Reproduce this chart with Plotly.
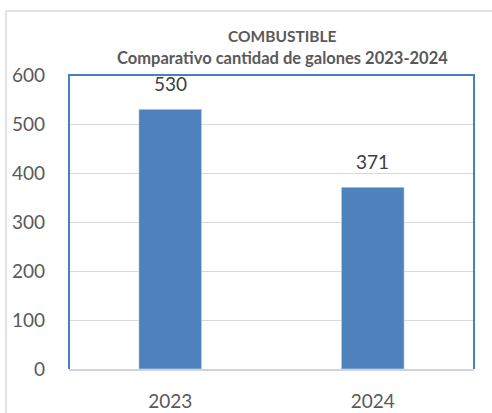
import plotly.graph_objects as go

categories = ["2023", "2024"]
values = [530, 371]
y_ticks = [0, 100, 200, 300, 400, 500, 600]

title_line1 = "COMBUSTIBLE"
title_line2 = "Comparativo cantidad de galones 2023-2024"

BAR = "#4F81BD"
TXT = "#595959"
FONT = "Lato"

W, H = 492, 413
ML, MR, MT, MB = 69, 18, 75, 44
PW = W - ML - MR
PH = H - MT - MB

def px(x):
    return (x - ML) / PW

def py(y):
    return (H - MB - y) / PH

fig = go.Figure()
fig.add_trace(go.Bar(
    x=categories, y=values, marker=dict(color=BAR),
    hoverinfo="skip",
))

# data labels (category index on the category axis)
for i, v in enumerate(values):
    fig.add_annotation(x=i, y=v, xref="x", yref="y", text=str(v), showarrow=False,
                       yshift=26, font=dict(family=FONT, size=19, color="#404040"))

fig.add_annotation(xref="paper", yref="paper", x=px(282), y=py(36), text="<b>%s</b>" % title_line1,
                   showarrow=False, xanchor="center", yanchor="middle",
                   font=dict(family=FONT, size=15.5, color=TXT))
fig.add_annotation(xref="paper", yref="paper", x=px(282), y=py(58), text="<b>%s</b>" % title_line2,
                   showarrow=False, xanchor="center", yanchor="middle",
                   font=dict(family=FONT, size=16.5, color=TXT))

# outer chart border (cut off at right/bottom like reference)
fig.add_shape(type="rect", xref="paper", yref="paper",
              x0=px(6), x1=px(520), y0=py(440), y1=py(11),
              line=dict(color="#D9D9D9", width=1.5), layer="below")
# blue plot-area frame (left, top, right)
fig.add_shape(type="path", xref="paper", yref="paper",
              path="M 0,0 L 0,1 L 1,1 L 1,0",
              line=dict(color="#4A7EC4", width=2), layer="above")

fig.update_layout(
    width=W, height=H,
    margin=dict(l=ML, r=MR, t=MT, b=MB, autoexpand=False),
    paper_bgcolor="white", plot_bgcolor="white",
    showlegend=False, bargap=0.69,
    font=dict(family=FONT, color=TXT),
    xaxis=dict(type="category", categoryorder="array", categoryarray=categories,
               range=[-0.5, len(categories) - 0.5],
               showline=True, linecolor="#D0D4D9", linewidth=2, showgrid=False,
               tickfont=dict(family=FONT, size=19, color=TXT), ticks="",
               ticklabelstandoff=14, fixedrange=True, automargin=False),
    yaxis=dict(range=[0, 600], tickvals=y_ticks, showgrid=True, gridcolor="#D9D9D9",
               gridwidth=1, zeroline=False, showline=False, ticks="",
               tickfont=dict(family=FONT, size=19, color=TXT),
               ticklabelstandoff=23, fixedrange=True, automargin=False),
)

fig.write_html("out.html", config={"displayModeBar": False},
               post_script="document.body.style.margin='0';")
